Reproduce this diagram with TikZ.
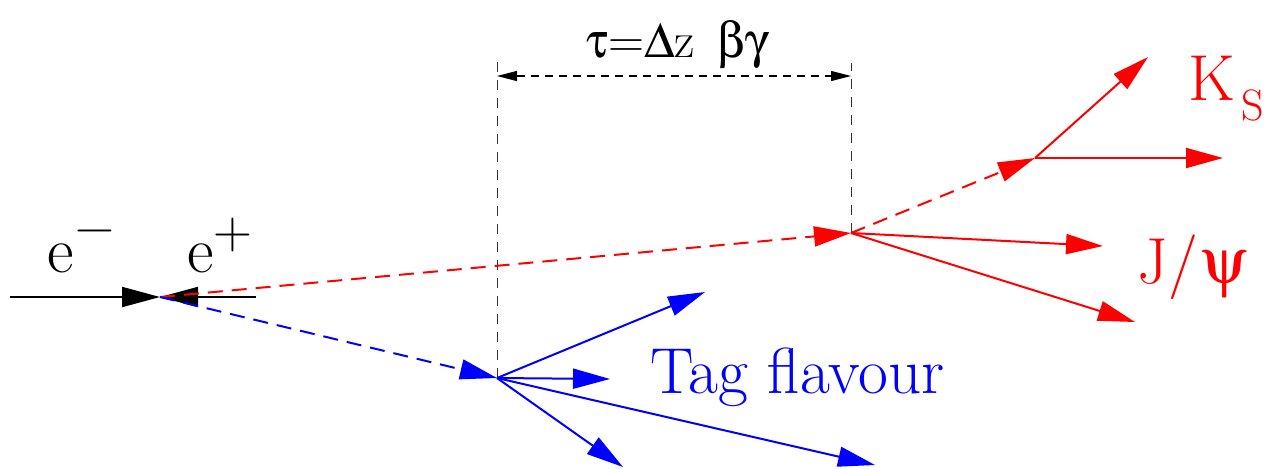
\documentclass[tikz,border=0pt]{standalone}
\usepackage[Symbol]{upgreek}
\usetikzlibrary{positioning, arrows.meta}

\begin{document}
\begin{tikzpicture}[x=0.5pt,y=-0.5pt,
  track/.style={line width=1pt, -{Triangle[length=18.5pt,width=10pt]}},
  flight/.style={track, dash pattern=on 7.5pt off 4.5pt},
  guide/.style={draw=black!80, line width=0.5pt, dash pattern=on 5pt off 4pt},
  span/.style={black, line width=0.6pt, dash pattern=on 4pt off 3pt, {Triangle[length=10pt,width=5pt]}-{Triangle[length=10pt,width=5pt]}},
  label/.style={anchor=base west, inner sep=0pt, font=\fontsize{32.5}{34}\selectfont},
  note/.style={anchor=base west, inner sep=0pt, font=\fontsize{25}{27}\selectfont}]
  \useasboundingbox (0,0) rectangle (1272,468);

  % vertices and free track ends
  \coordinate (ip) at (160,297);
  \coordinate (tagv) at (497,378);
  \coordinate (sigv) at (851,233);
  \coordinate (ksv) at (1035,158);
  \coordinate (ebeam) at (10,297);
  \coordinate (pbeam) at (256,297);
  \coordinate (tagtop) at (497,57);
  \coordinate (sigtop) at (851,63);
  \coordinate (spanl) at (497,76);
  \coordinate (spanr) at (851,76);

  % beams
  \draw[track, black, -{Triangle[length=19pt,width=10pt]}] (ebeam) -- (ip);
  \draw[track, black, -{Triangle[length=19pt,width=10pt]}] (pbeam) -- (ip);
  \node[label] (elab) at (47,272) {e\hspace{1pt}\raisebox{0.42em}{\fontsize{27}{28}\selectfont −}};
  \node[label] (plab) at (187,272) {e\raisebox{0.36em}{\fontsize{27}{28}\selectfont +}};

  % flight distance
  \draw[guide] (tagv) -- (tagtop);
  \draw[guide] (sigv) -- (sigtop);
  \draw[span] (spanl) -- (spanr);
  \node[note] (taulab) at (586,57) {$\uptau$=$\Updelta$z\hspace{0.45em}$\upbeta\upgamma$};

  % signal side
  \draw[flight, red] (ip) -- (sigv);
  \draw[flight, red] (sigv) -- (ksv);
  \coordinate (kspi1) at (1148,57);
  \coordinate (kspi2) at (1223,158);
  \coordinate (jmu1) at (1103,246);
  \coordinate (jmu2) at (1135,322);
  \draw[track, red] (ksv) -- (kspi1);
  \draw[track, red] (ksv) -- (kspi2);
  \draw[track, red] (sigv) -- (jmu1);
  \draw[track, red] (sigv) -- (jmu2);
  \node[label, text=red] (kslab) at (1188,100) {K\hspace{3pt}\raisebox{-10pt}{\fontsize{22}{23}\selectfont S}};
  \node[label, text=red] (jpsilab) at (1137,283) {J/\hspace{2pt}$\uppsi$};

  % tag side
  \draw[flight, blue] (ip) -- (tagv);
  \coordinate (tag1) at (705,292);
  \coordinate (tag2) at (610,379);
  \coordinate (tag3) at (623,467);
  \coordinate (tag4) at (875,465);
  \draw[track, blue] (tagv) -- (tag1);
  \draw[track, blue] (tagv) -- (tag2);
  \draw[track, blue] (tagv) -- (tag3);
  \draw[track, blue] (tagv) -- (tag4);
  \node[label, text=blue] (taglab) at (650,393) {Tag flavour};
\end{tikzpicture}
\end{document}
